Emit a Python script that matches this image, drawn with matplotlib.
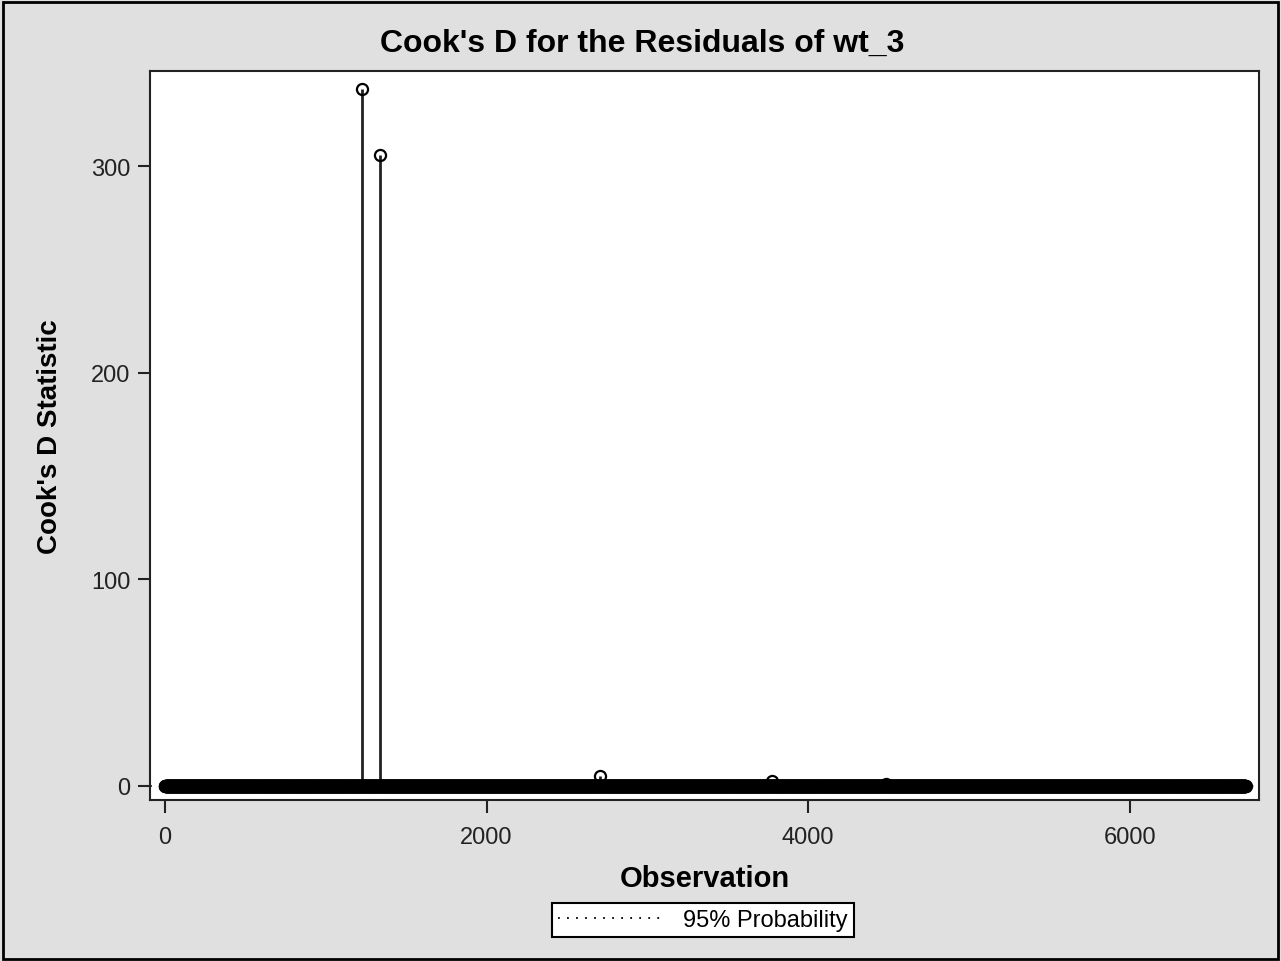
import numpy as np
import matplotlib.pyplot as plt
from matplotlib.patches import Rectangle

plt.rcParams['font.family'] = ['Liberation Sans', 'DejaVu Sans']

# Cook's D per observation: almost all are ~0, a few influential points stand out
n_obs = 6720
spike_obs = [1225, 1337, 2705, 3775, 4484]
spike_d = [337.5, 305.5, 4.6, 2.6, 1.0]
cutoff_95 = 0.0006

obs = np.arange(1, n_obs + 1)
cooks_d = np.zeros(n_obs)
cooks_d[np.array(spike_obs) - 1] = spike_d

fig = plt.figure(figsize=(12.81, 9.62), dpi=100)
fig.patch.set_facecolor('#e0e0e0')
fig.patches.append(Rectangle((0.002, 0.002), 0.996, 0.995, transform=fig.transFigure,
                             fill=False, edgecolor='black', linewidth=2))

ax = fig.add_axes([150 / 1281, 1 - 801 / 962, 1109 / 1281, 729 / 962])
ax.set_facecolor('white')

# needles from zero up to each value, with open circles at the tips
ax.vlines(obs, 0, cooks_d, color='#222222', linewidth=2)
ax.plot(obs, cooks_d, linestyle='none', marker='o', markersize=8,
        markerfacecolor='none', markeredgecolor='black', markeredgewidth=1.6)
ax.axhline(cutoff_95, color='black', linestyle=(0, (1, 4)), linewidth=1.3,
           label='95% Probability')

ax.set_xlim(-93, 6803)
ax.set_ylim(-6.8, 346)
ax.set_xticks([0, 2000, 4000, 6000])
ax.set_yticks([0, 100, 200, 300])
ax.tick_params(direction='out', length=9, width=1.5, labelsize=17, colors='#222222')
ax.tick_params(axis='x', pad=10)
ax.tick_params(axis='y', pad=5)
for s in ax.spines.values():
    s.set_linewidth(1.5)
    s.set_color('#222222')

ax.set_xlabel('Observation', fontsize=21, fontweight='bold', labelpad=11)
ax.set_ylabel("Cook's D Statistic", fontsize=20, fontweight='bold', labelpad=20)
fig.text(642 / 1281, 1 - 44 / 962, "Cook's D for the Residuals of wt_3",
         fontsize=23, fontweight='bold', ha='center', va='center')

leg = fig.legend(loc='center', bbox_to_anchor=(703 / 1281, 1 - 921 / 962), fontsize=17,
                 frameon=True, fancybox=False, edgecolor='black', facecolor='white',
                 framealpha=1, handlelength=4.3, borderpad=0.25, handletextpad=1.0)
leg.get_frame().set_linewidth(1.5)

fig.savefig('out.png', dpi=100, facecolor=fig.get_facecolor())
